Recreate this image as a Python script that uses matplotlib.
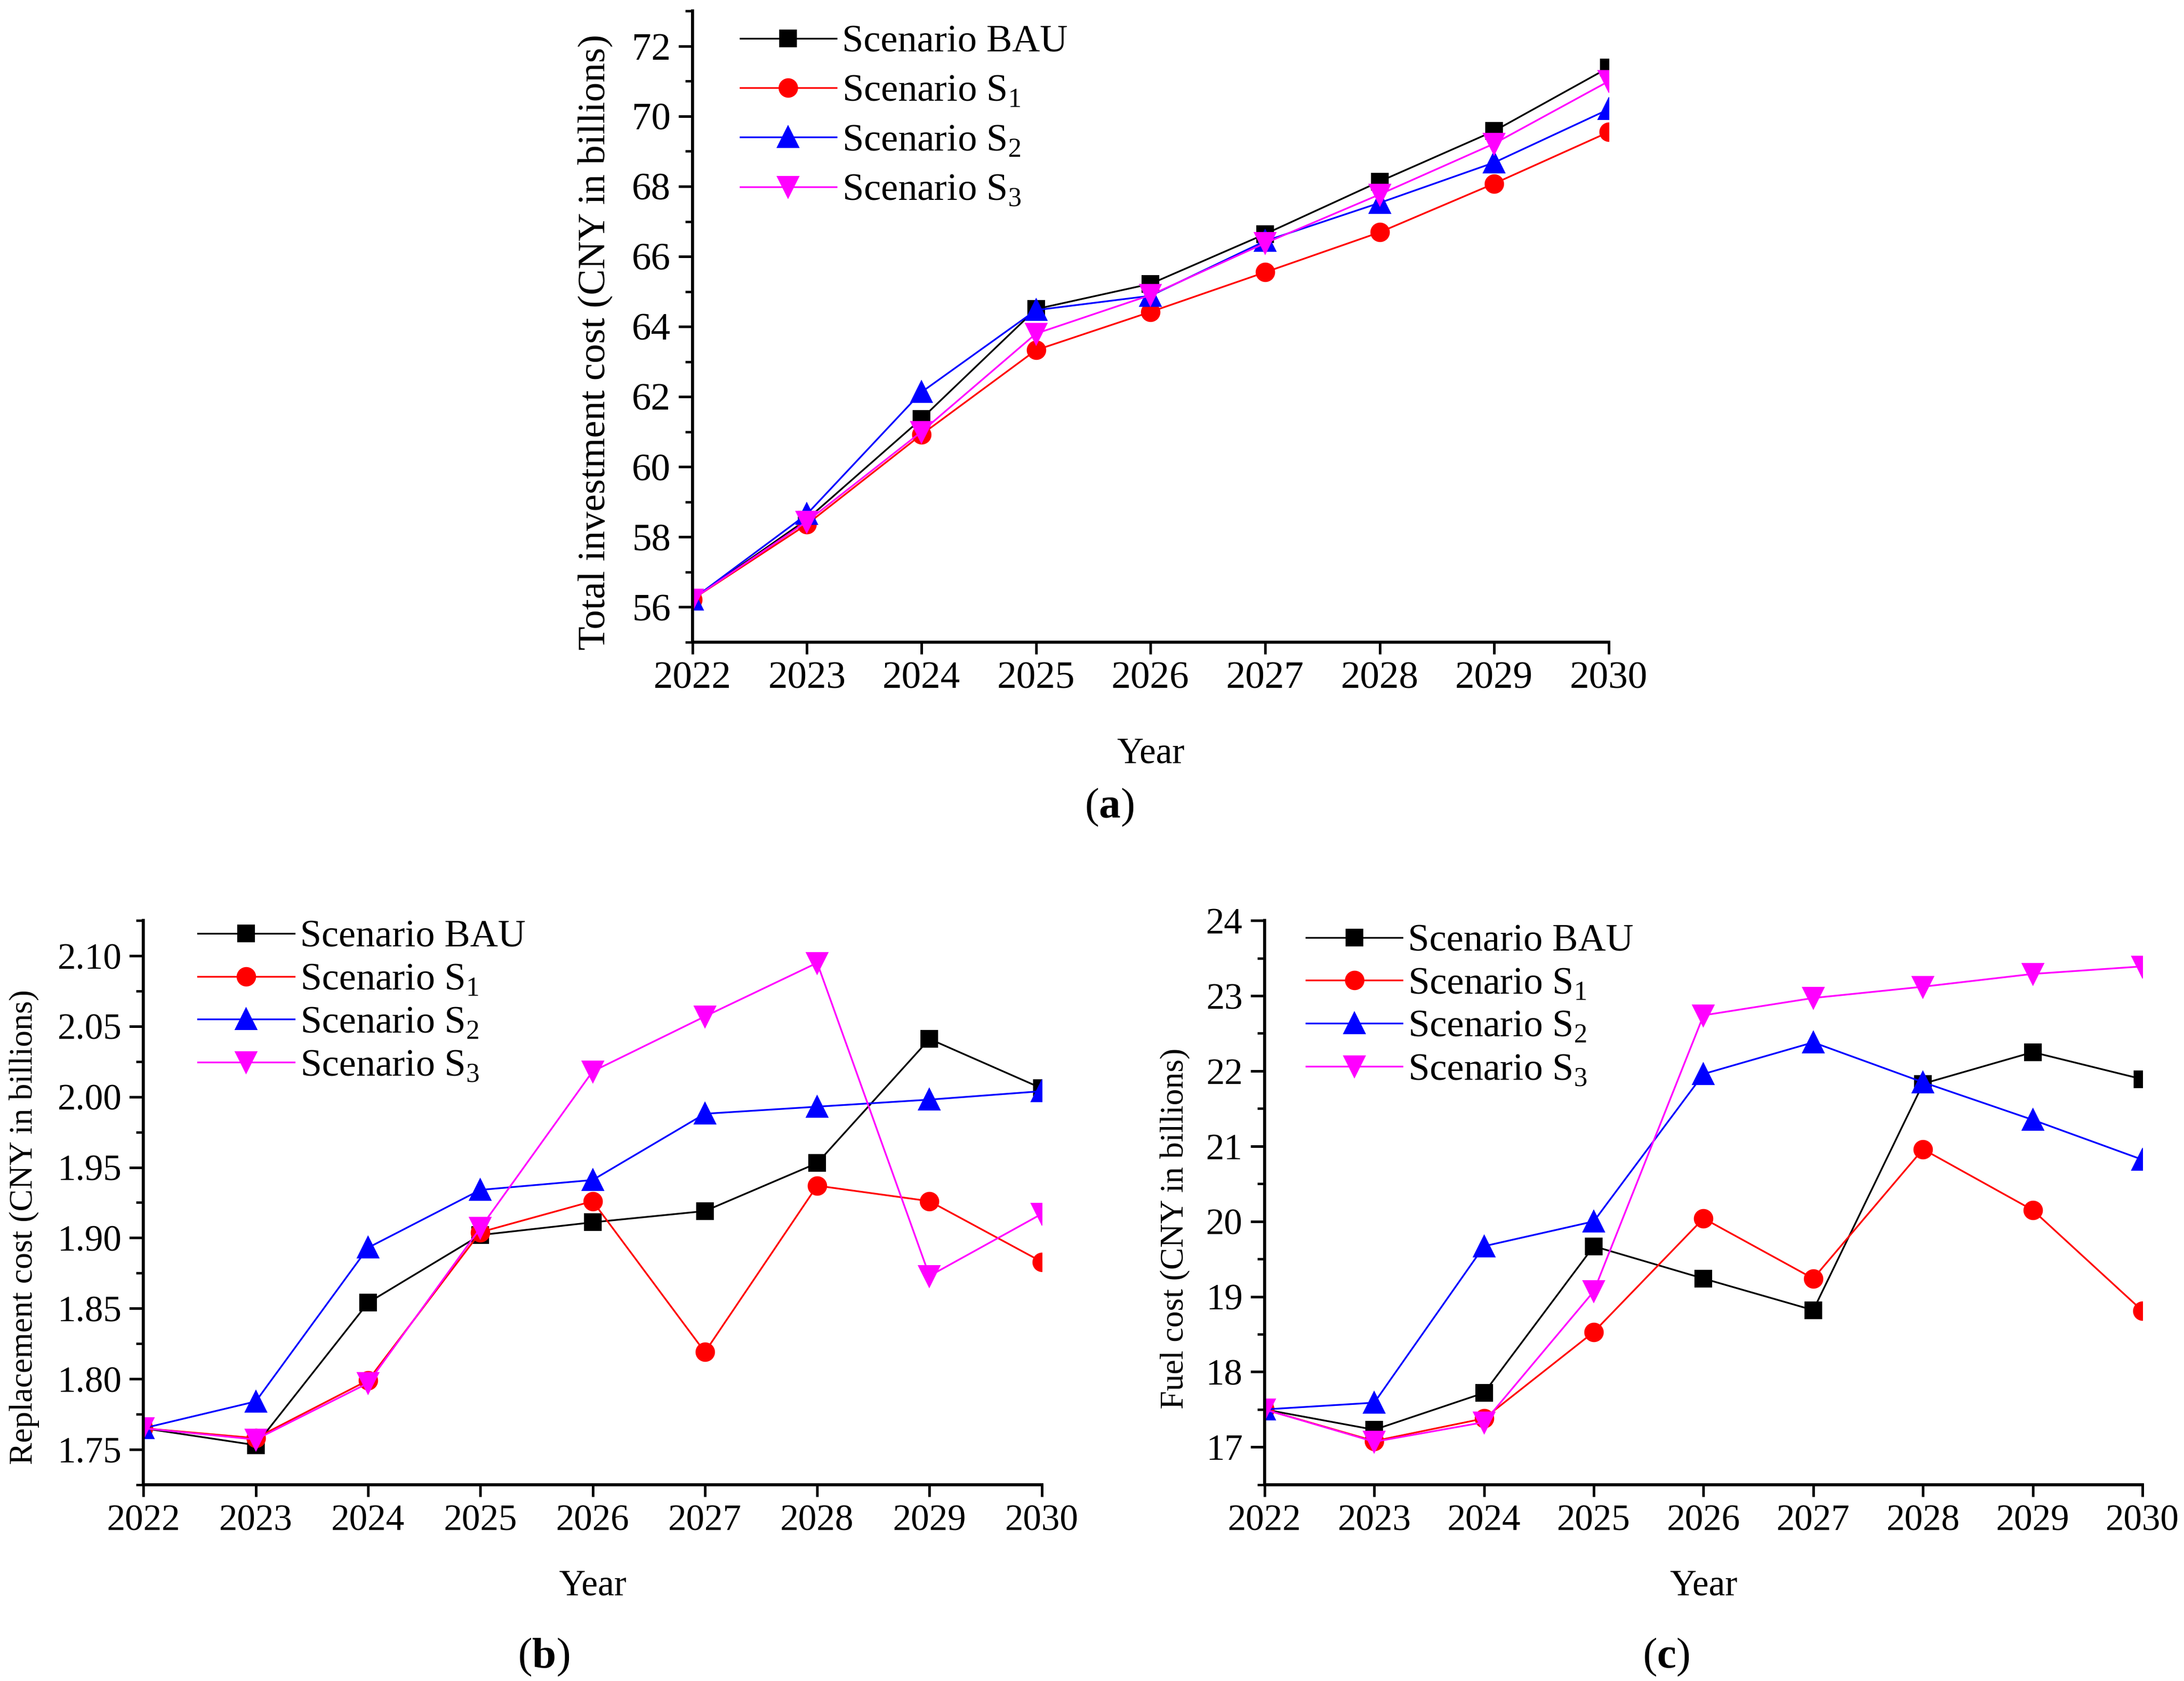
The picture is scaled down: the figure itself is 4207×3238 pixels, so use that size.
import matplotlib
matplotlib.use("Agg")
import matplotlib.pyplot as plt
from matplotlib.ticker import MultipleLocator, FormatStrFormatter

plt.rcParams['font.family'] = ['Liberation Serif', 'DejaVu Serif']
plt.rcParams['mathtext.fontset'] = 'custom'
plt.rcParams['mathtext.rm'] = 'Liberation Serif'
plt.rcParams['mathtext.bf'] = 'Liberation Serif:bold'

# Years on the x axis
years = [2022, 2023, 2024, 2025, 2026, 2027, 2028, 2029, 2030]

# (a) Total investment cost
inv_bau = [56.22, 58.5, 61.37, 64.5, 65.22, 66.64, 68.14, 69.58, 71.39]
inv_s1 = [56.22, 58.36, 60.92, 63.33, 64.42, 65.55, 66.69, 68.08, 69.55]
inv_s2 = [56.22, 58.65, 62.13, 64.47, 64.88, 66.44, 67.53, 68.68, 70.2]
inv_s3 = [56.22, 58.44, 61.0, 63.8, 64.9, 66.38, 67.77, 69.22, 71.0]

# (b) Replacement cost
rep_bau = [1.765, 1.753, 1.854, 1.902, 1.911, 1.919, 1.953, 2.041, 2.006]
rep_s1 = [1.765, 1.758, 1.799, 1.904, 1.926, 1.819, 1.937, 1.926, 1.883]
rep_s2 = [1.765, 1.784, 1.893, 1.934, 1.941, 1.988, 1.993, 1.998, 2.004]
rep_s3 = [1.765, 1.757, 1.797, 1.907, 2.018, 2.057, 2.095, 1.873, 1.917]

# (c) Fuel cost
fuel_bau = [17.5, 17.23, 17.72, 19.67, 19.24, 18.82, 21.83, 22.25, 21.89]
fuel_s1 = [17.5, 17.08, 17.38, 18.53, 20.04, 19.24, 20.96, 20.15, 18.81]
fuel_s2 = [17.5, 17.59, 19.67, 20.0, 21.96, 22.38, 21.85, 21.35, 20.82]
fuel_s3 = [17.5, 17.07, 17.33, 19.07, 22.74, 22.97, 23.12, 23.29, 23.39]

labels = ['Scenario BAU', 'Scenario S$_\\mathregular{1}$',
          'Scenario S$_\\mathregular{2}$', 'Scenario S$_\\mathregular{3}$']
colors = ['black', 'red', 'blue', 'magenta']
markers = ['s', 'o', '^', 'v']
msizes = [7, 8, 9, 9]


def dibujar_panel(ax, series, ylim, major, minor, ylabel, ylabel_pos,
                  tick_size, label_size, leg_anchor, leg_space):
    for vals, lab, col, mk, ms in zip(series, labels, colors, markers, msizes):
        ax.plot(years, vals, color=col, marker=mk, markersize=ms,
                linewidth=0.8, label=lab)
    ax.set_xlim(2022, 2030)
    ax.set_ylim(*ylim)
    ax.set_xticks(years)
    ax.yaxis.set_major_locator(MultipleLocator(major))
    ax.yaxis.set_minor_locator(MultipleLocator(minor))
    for s in ['top', 'right']:
        ax.spines[s].set_visible(False)
    for s in ['left', 'bottom']:
        ax.spines[s].set_linewidth(1.4)
    ax.tick_params(axis='x', which='major', direction='out', length=5.5,
                   width=1.2, labelsize=tick_size)
    ax.tick_params(axis='y', which='major', direction='out', length=6.5,
                   width=1.2, labelsize=tick_size)
    ax.tick_params(axis='y', which='minor', direction='out', length=3.3,
                   width=1.1)
    ax.set_ylabel(ylabel, fontsize=label_size)
    ax.yaxis.set_label_coords(*ylabel_pos)
    ax.set_xlabel('Year', fontsize=17)
    ax.xaxis.set_label_coords(0.5, -0.15)
    ax.legend(loc='upper left', bbox_to_anchor=leg_anchor, frameon=False,
              fontsize=17.8, handlelength=2.5, labelspacing=leg_space,
              handletextpad=0.15, borderaxespad=0.2)


fig = plt.figure(figsize=(4207 / 300, 3238 / 300), dpi=300)

ax_a = fig.add_axes([0.317, 0.618, 0.4196, 0.3754])
ax_b = fig.add_axes([0.0657, 0.1168, 0.4113, 0.3356])
ax_c = fig.add_axes([0.579, 0.1168, 0.402, 0.3356])

dibujar_panel(ax_a, [inv_bau, inv_s1, inv_s2, inv_s3], (55, 73), 2, 1,
              'Total investment cost (CNY in billions)', (-0.087, 0.475),
              18, 18, (0.027, 1.015), 0.37)
dibujar_panel(ax_b, [rep_bau, rep_s1, rep_s2, rep_s3], (1.725, 2.125), 0.05, 0.025,
              'Replacement cost (CNY in billions)', (-0.116, 0.457),
              17, 15.3, (0.035, 1.042), 0.2)
dibujar_panel(ax_c, [fuel_bau, fuel_s1, fuel_s2, fuel_s3], (16.5, 24), 1, 0.5,
              'Fuel cost (CNY in billions)', (-0.084, 0.454),
              17, 15.3, (0.021, 1.035), 0.2)

ax_b.yaxis.set_major_formatter(FormatStrFormatter('%.2f'))

# Panel letters
fig.text(0.508, 0.5195, '($\\mathbf{a}$)', ha='center', va='center', fontsize=20)
fig.text(0.249, 0.014, '($\\mathbf{b}$)', ha='center', va='center', fontsize=20)
fig.text(0.763, 0.014, '($\\mathbf{c}$)', ha='center', va='center', fontsize=20)

fig.savefig('out.png', dpi=300)
